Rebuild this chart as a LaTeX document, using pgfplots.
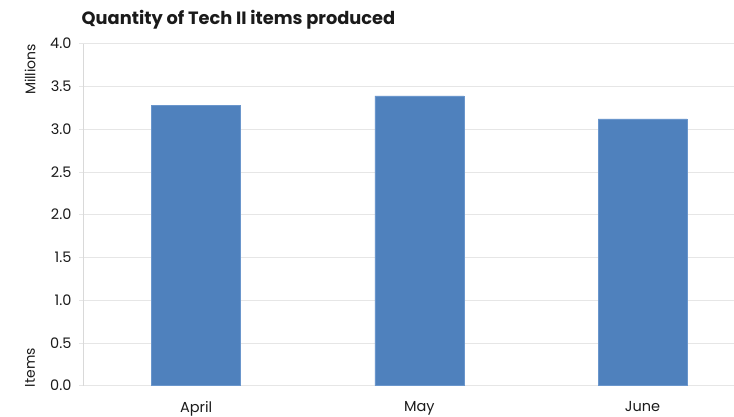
\documentclass[border=0pt]{standalone}
\usepackage{pgfplots}
\pgfplotsset{compat=1.18}
\usepackage{fontspec}
\setmainfont{Poppins}
\definecolor{barblue}{HTML}{4F81BD}
\definecolor{baredge}{HTML}{6A96CC}
\definecolor{gridc}{HTML}{E6E6E6}
\definecolor{axisc}{HTML}{D9D9D9}
\definecolor{txt}{HTML}{1A1A1A}
\begin{document}
\begin{tikzpicture}
\useasboundingbox (-83bp,-31.3bp) rectangle (651bp,385.7bp);
\begin{axis}[
  at={(0,0)}, anchor=south west,
  scale only axis, width=651bp, height=342bp,
  xmin=-0.507, xmax=2.41, ymin=0, ymax=4,
  ybar, bar width=89bp,
  xtick={0,1,2}, xticklabels={April,May,June},
  ytick={0,0.5,1,1.5,2,2.5,3,3.5,4},
  axis lines*=left,
  x axis line style={draw=none},
  y axis line style={axisc, line width=0.8pt},
  xtick style={draw=none},
  ytick style={gridc, line width=0.8pt},
  tick align=outside, major tick length=4bp,
  ymajorgrids, grid style={gridc, line width=0.8pt},
  /pgf/number format/assume math mode=true,
  /pgf/number format/fixed, /pgf/number format/fixed zerofill, /pgf/number format/precision=1,
  ticklabel style={font=\fontsize{14.5bp}{16bp}\selectfont, text=txt},
  yticklabel style={xshift=-4bp},
  xticklabel style={yshift=-8bp},
]
\addplot[fill=barblue, draw=baredge, line width=0.6pt] coordinates {(0,3.275) (1,3.39) (2,3.12)};
\end{axis}
\node[rotate=90, anchor=east, inner sep=0, font=\fontsize{14bp}{16bp}\selectfont, text=txt] at (-53bp,342bp) {Millions};
\node[rotate=90, anchor=west, inner sep=0, font=\fontsize{14bp}{16bp}\selectfont, text=txt] at (-53bp,-1.5bp) {Items};
\node[anchor=base west, inner sep=0, font=\bfseries\fontsize{17.8bp}{20bp}\selectfont, text=txt] at (-1.5bp,360.7bp) {Quantity of Tech II items produced};
\end{tikzpicture}
\end{document}
